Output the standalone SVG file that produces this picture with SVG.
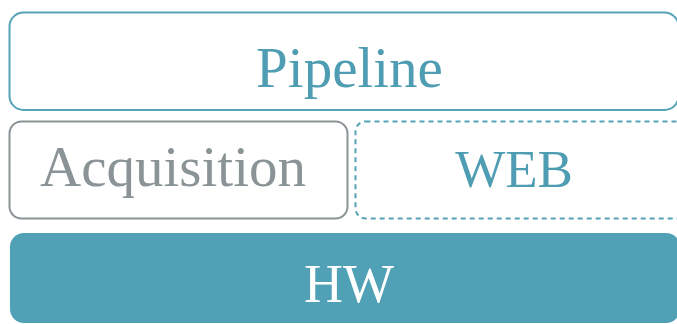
<svg xmlns="http://www.w3.org/2000/svg" width="677" height="324" viewBox="0 0 677 324">
<style>
text{font-family:"Liberation Serif","DejaVu Serif",serif;text-anchor:middle}
.teal{fill:#4f9db2}
.grey{fill:#8a9396}
</style>
<rect width="677" height="324" fill="#fff"/>
<g id="pipeline">
<rect x="9.5" y="12.5" width="669" height="97.5" rx="14" fill="#fff" stroke="#55a3b7" stroke-width="2"/>
<text x="349.5" y="87" font-size="57" class="teal">Pipeline</text>
</g>
<g id="acquisition">
<rect x="9.5" y="121.5" width="338" height="97" rx="12" fill="#fff" stroke="#8a9396" stroke-width="2"/>
<text x="173" y="186" font-size="57" class="grey">Acquisition</text>
</g>
<g id="web">
<rect x="355.5" y="121.5" width="340" height="97" rx="10" fill="#fff" stroke="#55a3b7" stroke-width="2" stroke-dasharray="5,4"/>
<text x="514" y="187" font-size="53" class="teal">WEB</text>
</g>
<g id="hw">
<rect x="10" y="233" width="670" height="90" rx="14" fill="#50a1b6"/>
<text x="349" y="302" font-size="54" fill="#ffffff">HW</text>
</g>
<g id="connectors"/>
</svg>
